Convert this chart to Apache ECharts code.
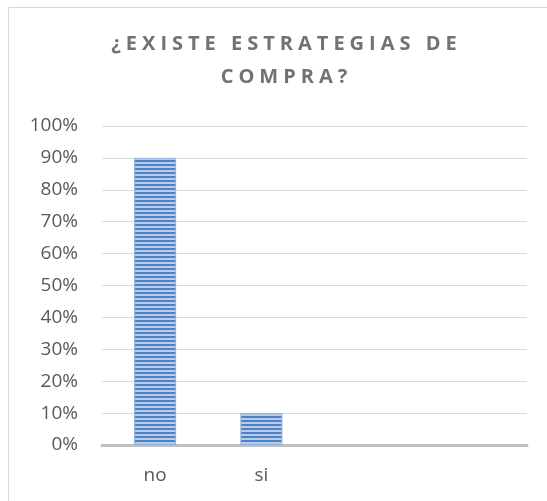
<!DOCTYPE html>
<html>
<head>
<meta charset="utf-8">
<script src="https://cdn.jsdelivr.net/npm/echarts@6/dist/echarts.min.js"></script>
<style>html,body{margin:0;padding:0;background:#fff}#c{width:547px;height:501px}</style>
</head>
<body>
<div id="c"></div>
<script>
var titleLines = ['¿EXISTE ESTRATEGIAS DE', 'COMPRA?'];
var categories = ['no', 'si', '', ''];
var values = [0.9, 0.1, null, null];
var yTicks = [0, 0.1, 0.2, 0.3, 0.4, 0.5, 0.6, 0.7, 0.8, 0.9, 1.0];

function spaced(s) { return s.split('').join('\u2005'); }

// striped pattern for bars
var pc = document.createElement('canvas');
pc.width = 4; pc.height = 4;
var px = pc.getContext('2d');
px.fillStyle = '#b7cdeb'; px.fillRect(0, 0, 4, 4);
px.fillStyle = '#4f82c4'; px.fillRect(0, 0, 4, 2);

var chart = echarts.init(document.getElementById('c'), null, {renderer: 'canvas'});
chart.setOption({
  animation: false,
  graphic: [{
    type: 'rect', shape: {x: 8.5, y: 7.5, width: 700, height: 700},
    style: {fill: 'none', stroke: '#d9d9d9', lineWidth: 1}, z: -10
  }],
  title: {
    text: titleLines.map(spaced).join('\n'),
    left: 279, top: 23, textAlign: 'center',
    textStyle: {fontFamily: 'Open Sans', fontWeight: 'bold', fontSize: 20, color: '#767171', lineHeight: 33}
  },
  grid: {left: 102, right: 20, top: 126, bottom: 56, containLabel: false},
  xAxis: {
    type: 'category', data: categories,
    axisLine: {lineStyle: {color: '#bfbfbf', width: 3}},
    axisTick: {show: false},
    axisLabel: {color: '#595959', fontSize: 19, fontFamily: 'Open Sans', margin: 21}
  },
  yAxis: {
    type: 'value', min: 0, max: 1, interval: 0.1,
    axisLine: {show: false}, axisTick: {show: false},
    splitLine: {lineStyle: {color: '#d9d9d9', width: 1}},
    axisLabel: {color: '#595959', fontSize: 19, fontFamily: 'Open Sans', margin: 24,
      formatter: function (v) { return Math.round(v * 100) + '%'; }}
  },
  series: [{
    type: 'bar', data: values, barWidth: 42,
    itemStyle: {color: {image: pc, repeat: 'repeat'}, borderColor: '#8fb0de', borderWidth: 1}
  }]
});
</script>
</body>
</html>
